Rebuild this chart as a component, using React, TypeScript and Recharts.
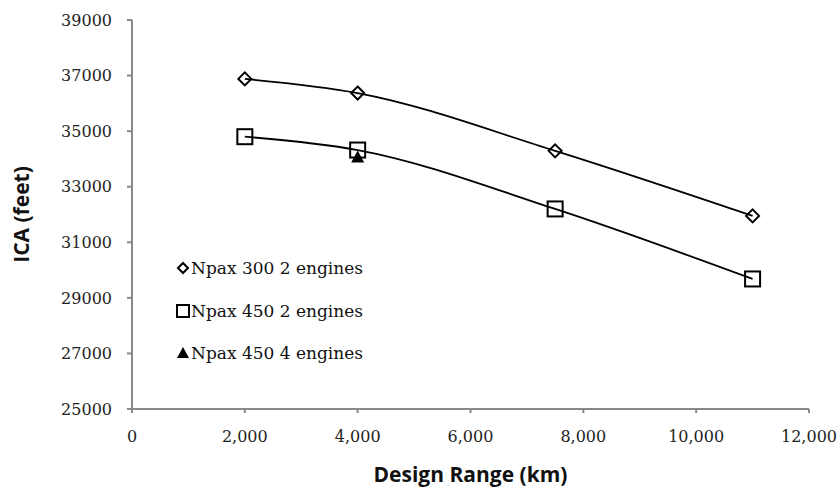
import { Label, Line, LineChart, XAxis, YAxis } from "recharts"

const rangeKm = [2000, 4000, 7500, 11000]
const npax300Twin = [36880, 36370, 34290, 31950]
const npax450Twin = [34800, 34320, 32200, 29680]
const quadRangeKm = [4000]
const npax450Quad = [34070]

const xTicks = [0, 2000, 4000, 6000, 8000, 10000, 12000]
const yTicks = [25000, 27000, 29000, 31000, 33000, 35000, 37000, 39000]

const seriesNames = ["Npax 300 2 engines", "Npax 450 2 engines", "Npax 450 4 engines"]

const toPoints = (xs: number[], ys: number[]) => xs.map((x, i) => ({ range: x, ica: ys[i] }))

const twin300 = toPoints(rangeKm, npax300Twin)
const twin450 = toPoints(rangeKm, npax450Twin)
const quad450 = toPoints(quadRangeKm, npax450Quad)

const serif = "'DejaVu Serif', serif"
const sans = "'Open Sans', sans-serif"

const Diamond = ({ cx, cy, size = 6.5 }: any) => (
  <polygon
    points={`${cx},${cy - size} ${cx + size},${cy} ${cx},${cy + size} ${cx - size},${cy}`}
    fill="none"
    stroke="#000"
    strokeWidth={2}
  />
)

const Square = ({ cx, cy, size = 7.5 }: any) => (
  <rect x={cx - size} y={cy - size} width={size * 2} height={size * 2} fill="none" stroke="#000" strokeWidth={2} />
)

const Triangle = ({ cx, cy, size = 6.5 }: any) => (
  <polygon
    points={`${cx},${cy - size} ${cx + size},${cy + size * 0.85} ${cx - size},${cy + size * 0.85}`}
    fill="#000"
  />
)

const LegendBox = () => {
  const marks = [Diamond, Square, Triangle]
  const sizes = [5, 6, 6]
  return (
    <div
      style={{
        position: "absolute",
        left: 176,
        top: 247,
        fontFamily: serif,
        fontSize: 17,
        color: "#111",
      }}
    >
      {seriesNames.map((name, i) => {
        const Mark = marks[i]
        return (
          <div key={name} style={{ display: "flex", alignItems: "center", height: 42.5 }}>
            <svg width={14} height={16} style={{ marginRight: 1 }}>
              <Mark cx={7} cy={8} size={sizes[i]} />
            </svg>
            <span>{name}</span>
          </div>
        )
      })}
    </div>
  )
}

export default function App() {
  return (
    <div style={{ position: "absolute", left: 0, top: 0, width: 839, height: 487, background: "#fff" }}>
      <LineChart width={839} height={487} margin={{ top: 20, right: 30, left: 0, bottom: 0 }}>
        <XAxis
          type="number"
          dataKey="range"
          domain={[0, 12000]}
          ticks={xTicks}
          tickFormatter={(v) => v.toLocaleString("en-US")}
          stroke="#888"
          strokeWidth={2}
          tickSize={4}
          tickMargin={18}
          height={78}
          tick={{ fill: "#222", fontFamily: serif, fontSize: 16 }}
        >
          <Label
            content={({ viewBox }: any) => (
              <text
                x={viewBox.x + viewBox.width / 2}
                y={viewBox.y + 73}
                textAnchor="middle"
                fontFamily={sans}
                fontWeight={700}
                fontSize={21}
                fill="#111"
              >
                Design Range (km)
              </text>
            )}
          />
        </XAxis>
        <YAxis
          type="number"
          domain={[25000, 39000]}
          ticks={yTicks}
          stroke="#888"
          strokeWidth={2}
          tickSize={5}
          tickMargin={15}
          width={132}
          tick={{ fill: "#222", fontFamily: serif, fontSize: 16 }}
        >
          <Label
            content={({ viewBox }: any) => {
              const cy = viewBox.y + viewBox.height / 2
              return (
                <text
                  x={29}
                  y={cy}
                  transform={`rotate(-90, 29, ${cy})`}
                  textAnchor="middle"
                  fontFamily={sans}
                  fontWeight={700}
                  fontSize={21}
                  fill="#111"
                >
                  ICA (feet)
                </text>
              )
            }}
          />
        </YAxis>
        <Line
          data={twin300}
          dataKey="ica"
          name={seriesNames[0]}
          type="monotone"
          stroke="#000"
          strokeWidth={1.8}
          dot={<Diamond />}
          isAnimationActive={false}
        />
        <Line
          data={twin450}
          dataKey="ica"
          name={seriesNames[1]}
          type="monotone"
          stroke="#000"
          strokeWidth={1.8}
          dot={<Square />}
          isAnimationActive={false}
        />
        <Line
          data={quad450}
          dataKey="ica"
          name={seriesNames[2]}
          stroke="none"
          dot={<Triangle />}
          isAnimationActive={false}
        />
      </LineChart>
      <LegendBox />
    </div>
  )
}
